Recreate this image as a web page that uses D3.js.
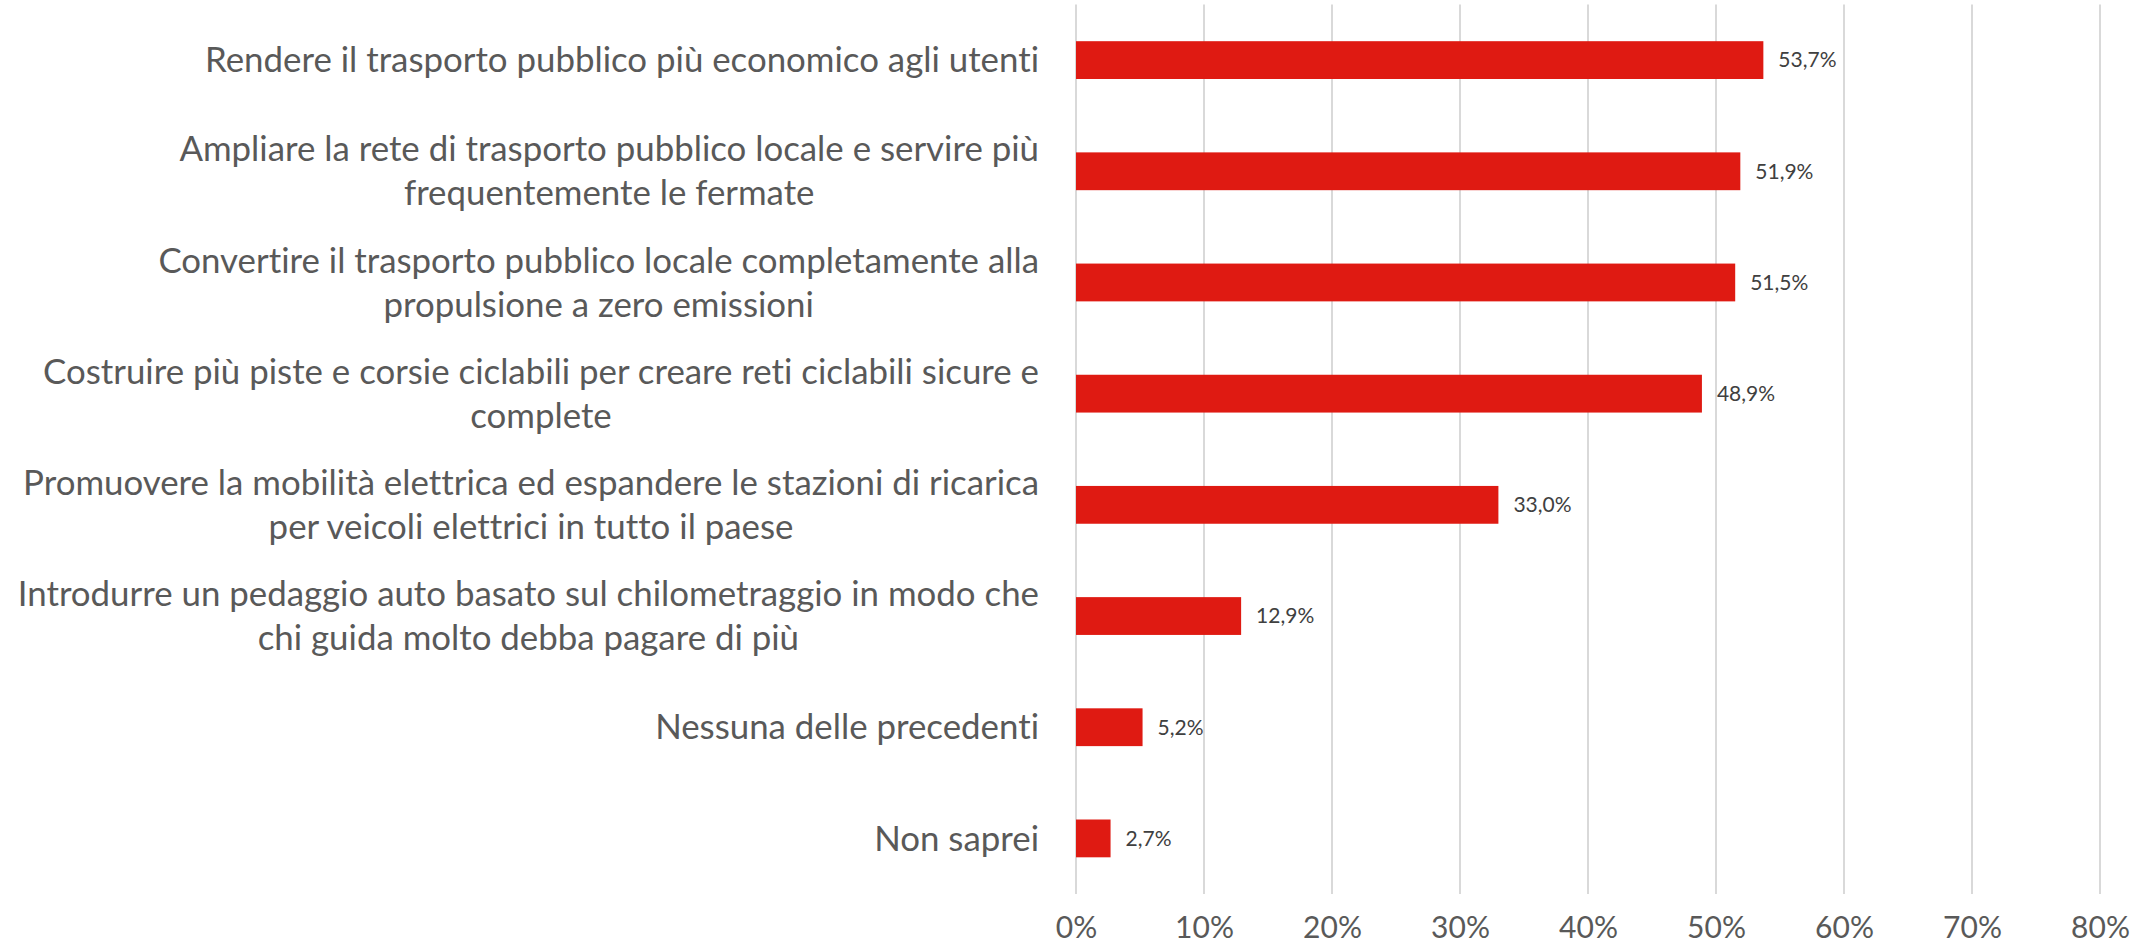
<!DOCTYPE html>
<html>
<head>
<meta charset="utf-8">
<script src="https://cdn.jsdelivr.net/npm/d3@7"></script>
<style>
  html, body { margin: 0; padding: 0; background: #fff; }
  svg { display: block; }
  text { font-variant-ligatures: none; font-feature-settings: "liga" 0, "clig" 0; }
</style>
</head>
<body>
<svg id="chart" width="2144" height="949"></svg>
<script>
const categories = [
  ["Rendere il trasporto pubblico più economico agli utenti"],
  ["Ampliare la rete di trasporto pubblico locale e servire più", "frequentemente le fermate"],
  ["Convertire il trasporto pubblico locale completamente alla", "propulsione a zero emissioni"],
  ["Costruire più piste e corsie ciclabili per creare reti ciclabili sicure e", "complete"],
  ["Promuovere la mobilità elettrica ed espandere le stazioni di ricarica", "per veicoli elettrici in tutto il paese"],
  ["Introdurre un pedaggio auto basato sul chilometraggio in modo che", "chi guida molto debba pagare di più"],
  ["Nessuna delle precedenti"],
  ["Non saprei"]
];
const values = [53.7, 51.9, 51.5, 48.9, 33.0, 12.9, 5.2, 2.7];
const tickValues = [0, 10, 20, 30, 40, 50, 60, 70, 80];

const FONT = "Lato, 'Open Sans', sans-serif";
const svg = d3.select("#chart");
const margin = {left: 1076, right: 44, top: 4.5, bottom: 55};
const W = 2144, H = 949;

const locale = d3.formatLocale({decimal: ",", thousands: ".", grouping: [3], currency: ["€", ""]});
const fmtVal = v => locale.format(".1f")(v) + "%";

const x = d3.scaleLinear().domain([0, 80]).range([margin.left, W - margin.right]);
const y = d3.scaleBand().domain(d3.range(values.length)).range([margin.top, H - margin.bottom]).paddingInner(0.66).paddingOuter(0.33);

// gridlines
svg.append("g").selectAll("line").data(tickValues).join("line")
  .attr("x1", d => x(d)).attr("x2", d => x(d))
  .attr("y1", margin.top).attr("y2", H - margin.bottom)
  .attr("stroke", "#d9d9d9").attr("stroke-width", 2);

// x axis tick labels
const xAxis = d3.axisBottom(x).tickValues(tickValues).tickFormat(d => d + "%").tickSize(0).tickPadding(0);
const gx = svg.append("g").attr("transform", `translate(0, ${H - margin.bottom + 23})`).call(xAxis);
gx.select(".domain").remove();
gx.selectAll("text").attr("font-family", FONT).attr("font-size", 30).attr("fill", "#595959").attr("dy", "0.71em");

// bars
svg.append("g").selectAll("rect").data(values).join("rect")
  .attr("x", x(0)).attr("y", (d, i) => y(i))
  .attr("width", d => x(d) - x(0)).attr("height", y.bandwidth())
  .attr("fill", "#df1a12");

// data labels
svg.append("g").selectAll("text").data(values).join("text")
  .attr("x", d => x(d) + 15).attr("y", (d, i) => y(i) + y.bandwidth() / 2)
  .attr("dy", "0.35em")
  .attr("font-family", FONT).attr("font-size", 21).attr("fill", "#404040")
  .text(d => fmtVal(d));

// category labels: fit font size to reference width of first label
let catSize = 30;
const probe = svg.append("text").attr("font-family", FONT).attr("font-size", catSize).text(categories[0][0]);
const measured = probe.node().getComputedTextLength();
probe.remove();
catSize = catSize * 834 / measured;
const lineH = 44;
const rightEdge = 1039;

const gl = svg.append("g");
categories.forEach((lines, i) => {
  const cy = y(i) + y.bandwidth() / 2;
  const g = gl.append("g");
  const texts = lines.map((t, k) => g.append("text")
    .attr("font-family", FONT).attr("font-size", catSize).attr("fill", "#595959")
    .attr("text-anchor", "middle").attr("dy", "0.35em")
    .attr("y", cy + (k - (lines.length - 1) / 2) * lineH)
    .text(t));
  const maxW = d3.max(texts, t => t.node().getComputedTextLength());
  texts.forEach(t => t.attr("x", rightEdge - maxW / 2));
});
</script>
</body>
</html>
